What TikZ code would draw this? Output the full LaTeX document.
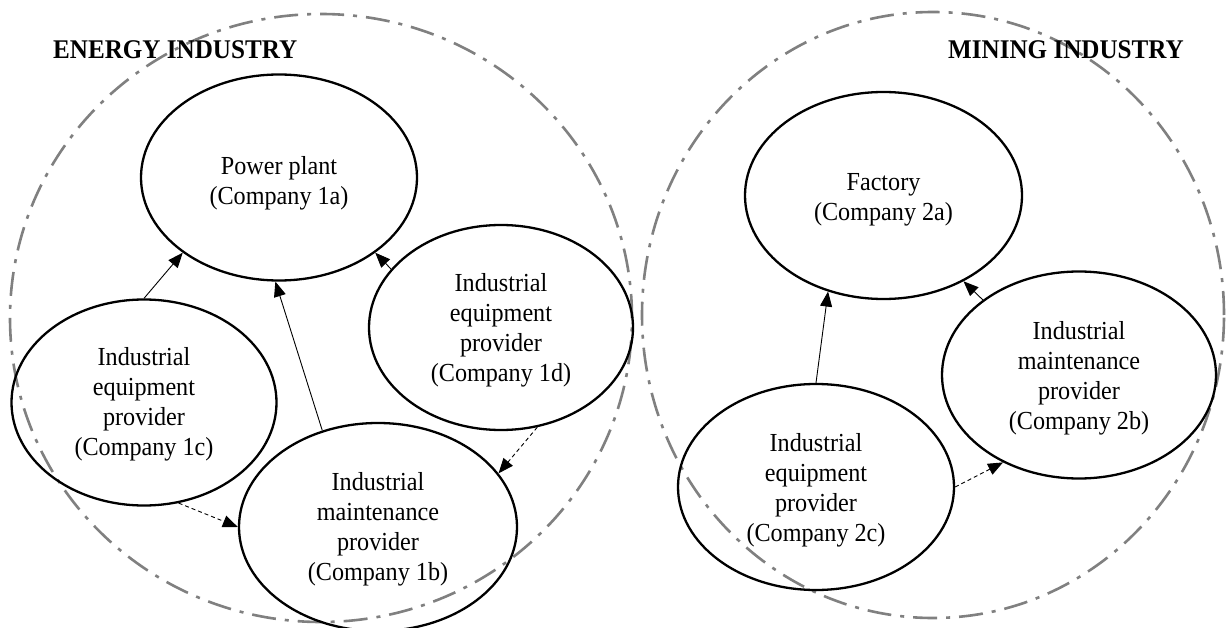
\documentclass[tikz,border=0pt]{standalone}
\usepackage{fontspec}
\setmainfont{Liberation Serif}
\newfontfamily\nodefont[FakeStretch=0.93]{Liberation Serif}
\usetikzlibrary{arrows.meta,shapes.geometric}
\definecolor{ringgray}{RGB}{128,128,128}
% taller first line, so the text block sits a little lower in its ellipse
\newcommand{\topgap}[1]{\rule{0pt}{#1pt}}
\tikzset{
  firm/.style={ellipse, draw=black, line width=2.3pt, inner sep=0pt,
    align=center, font=\nodefont\fontsize{26}{30}\selectfont},
  ring/.style={draw=ringgray, line width=2.6pt,
    dash pattern=on 24pt off 9pt on 4pt off 9pt},
  industry/.style={anchor=west, inner sep=0pt,
    font=\nodefont\bfseries\fontsize{27}{30}\selectfont},
  link/.style={line width=0.9pt, -{Triangle[length=15pt,width=12pt]}},
  service/.style={link, dash pattern=on 4pt off 3pt}
}
\begin{document}
\begin{tikzpicture}[x=1pt,y=-1pt]
\useasboundingbox (0,0) rectangle (1228,628);
\fill[white] (0,0) rectangle (1228,628);

% industry boundaries
\draw[ring] (321,318) ellipse [x radius=311pt, y radius=304pt];
\draw[ring] (933,315) ellipse [x radius=291pt, y radius=303pt];

\node[industry] (energy) at (53,50) {ENERGY INDUSTRY};
\node[industry] (mining) at (948,50) {MINING INDUSTRY};

% energy industry companies
\node[firm, minimum width=276pt, minimum height=206pt] (c1a) at (279,177.5)
  {\topgap{29}Power plant\\(Company 1a)};
\node[firm, minimum width=278pt, minimum height=208pt] (c1b) at (378,527)
  {\topgap{22}Industrial\\maintenance\\provider\\(Company 1b)};
\node[firm, minimum width=265pt, minimum height=206pt] (c1c) at (144,402.5)
  {\topgap{22}Industrial\\equipment\\provider\\(Company 1c)};
\node[firm, minimum width=264pt, minimum height=205pt] (c1d) at (501,327.5)
  {\topgap{24}Industrial\\equipment\\provider\\(Company 1d)};

% mining industry companies
\node[firm, minimum width=277pt, minimum height=207pt] (c2a) at (883.5,195.5)
  {\topgap{25}Factory\\(Company 2a)};
\node[firm, minimum width=274pt, minimum height=207pt] (c2b) at (1079,375)
  {\topgap{24}Industrial\\maintenance\\provider\\(Company 2b)};
\node[firm, minimum width=276pt, minimum height=206pt] (c2c) at (816,487)
  {\topgap{24}Industrial\\equipment\\provider\\(Company 2c)};

% supply relations
\draw[link] (c1c.90) -- (c1a.218);
\draw[link] (c1b.120) -- (c1a.268);
\draw[link] (c1d.152.6) -- (c1a.322.8);
\draw[service] (c1c.289.5) -- (c1b.180);
\draw[service] (c1d.290) -- (c1b.24.2);

\draw[link] (c2c.90) -- (c2a.240);
\draw[link] (c2b.142.9) -- (c2a.313);
\draw[service] (c2c.0) -- (c2b.229);
\end{tikzpicture}
\end{document}
